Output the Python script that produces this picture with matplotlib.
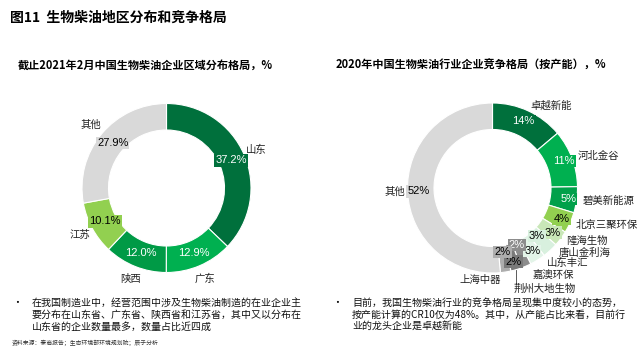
import numpy as np
import matplotlib.pyplot as plt

plt.rcParams['font.family'] = ['Noto Sans CJK SC', 'DejaVu Sans']

# left donut: regional distribution of biodiesel companies
left_names = ["山东", "广东", "陕西", "江苏", "其他"]
left_values = [37.2, 12.9, 12.0, 10.1, 27.9]
left_colors = ["#00703C", "#00B050", "#009A46", "#92D050", "#D9D9D9"]
left_text = ["white", "white", "white", "black", "black"]

# right donut: competition by capacity
right_names = ["卓越新能", "河北金谷", "碧美新能源", "北京三聚环保", "隆海生物",
               "唐山金利海", "山东丰汇", "嘉澳环保", "荆州大地生物", "上海中器", "其他"]
right_values = [14, 11, 5, 4, 3, 3, 3, 2, 2, 2, 52]
right_colors = ["#00703C", "#00B050", "#00A04A", "#92D050", "#C9E7B8",
                "#D8F0DE", "#E3F4E8", "#8C8C8C", "#7A7A7A", "#ADADAD", "#D9D9D9"]
right_text = ["white", "white", "white", "black", "black",
              "black", "black", "white", "black", "black", "black"]
right_pct_r = [0.87, 0.9, 0.9, 0.89, 0.88, 0.77, 0.88, 0.73, 0.9, 0.76, 0.87]
# label placement for the crowded lower-right names (angle in degrees, radius factor)
right_lab_pos = {"隆海生物": (-35.5, 1.07), "唐山金利海": (-44.5, 1.09),
                 "山东丰汇": (-54, 1.09), "嘉澳环保": (-65, 1.13)}

fig = plt.figure(figsize=(6.4, 3.51), dpi=100)
ax = fig.add_axes([0, 0, 1, 1])
ax.set_xlim(0, 640)
ax.set_ylim(0, 351)
ax.set_aspect('equal')
ax.axis('off')

H = 351
num_font = ['Liberation Sans', 'Noto Sans CJK SC']


def donut(center, R, values, colors, tcolors, pct_r, side_labels):
    wedges, _ = ax.pie(values, colors=colors, startangle=90, counterclock=False,
                       center=center, radius=R, frame=True,
                       wedgeprops=dict(width=26.5, edgecolor='white', linewidth=0.8))
    for i, w in enumerate(wedges):
        mid = np.deg2rad((w.theta1 + w.theta2) / 2)
        r = pct_r[i] * R
        x = center[0] + r * np.cos(mid)
        y = center[1] + r * np.sin(mid)
        v = values[i]
        s = f"{v:.1f}%" if isinstance(v, float) else f"{v}%"
        ax.text(x, y, s, ha='center', va='center', fontsize=8, color=tcolors[i],
                family=num_font,
                bbox=dict(boxstyle='square,pad=0.1', fc=colors[i], ec='none'))
        side_labels(i, w, mid)
    return wedges


lc = (166.5, H - 188)


def left_lab(i, w, mid):
    r = 1.16 * 84.5
    ax.text(lc[0] + r * np.cos(mid), lc[1] + r * np.sin(mid), left_names[i],
            ha='center', va='center', fontsize=7.5, color='#222222')


donut(lc, 84.5, left_values, left_colors, left_text, [0.83] * 5, left_lab)

rc = (492.5, H - 188)
R2 = 85


def right_lab(i, w, mid):
    name = right_names[i]
    if name == "其他":
        ax.text(405, rc[1] + 0.87 * R2 * np.sin(mid), name, ha='right', va='center',
                fontsize=7.5, color='#222222')
        return
    if name == "上海中器":
        r = 1.1 * R2
        ax.text(rc[0] + r * np.cos(mid) - 6, rc[1] + r * np.sin(mid), name,
                ha='right', va='center', fontsize=7.5, color='#222222')
        return
    r = 1.07 * R2
    ang = mid
    if name in right_lab_pos:
        a, f = right_lab_pos[name]
        ang = np.deg2rad(a)
        r = f * R2
    x = rc[0] + r * np.cos(ang)
    y = rc[1] + r * np.sin(ang)
    if name == "荆州大地生物":
        x0 = rc[0] + R2 * np.cos(mid)
        y0 = rc[1] + R2 * np.sin(mid)
        ax.plot([x0, x0], [y0, y0 - 14], color='#404040', lw=0.6)
        x, y = x0 - 2, y0 - 19
    ax.text(x, y, name, ha='left', va='center', fontsize=7.5, color='#222222')


donut(rc, R2, right_values, right_colors, right_text, right_pct_r, right_lab)

# titles
ax.text(10, H - 18, "图11  生物柴油地区分布和竞争格局", ha='left', va='center',
        fontsize=10, fontweight='bold', color='black')
ax.text(145, H - 65, "截止2021年2月中国生物柴油企业区域分布格局，%", ha='center',
        va='center', fontsize=8, fontweight='bold', color='black')
ax.text(471, H - 65, "2020年中国生物柴油行业企业竞争格局（按产能），%", ha='center',
        va='center', fontsize=8, fontweight='bold', color='black')

# bullet notes
left_note = ["在我国制造业中，经营范围中涉及生物柴油制造的在业企业主",
             "要分布在山东省、广东省、陕西省和江苏省，其中又以分布在",
             "山东省的企业数量最多，数量占比近四成"]
right_note = ["目前，我国生物柴油行业的竞争格局呈现集中度较小的态势，",
              "按产能计算的CR10仅为48%。其中，从产能占比来看，目前行",
              "业的龙头企业是卓越新能"]
line_y = [303, 315, 327]
ax.text(17, H - line_y[0], "•", ha='center', va='center', fontsize=7)
ax.text(337, H - line_y[0], "•", ha='center', va='center', fontsize=7)
for y, a, b in zip(line_y, left_note, right_note):
    ax.text(32, H - y, a, ha='left', va='center', fontsize=7.2, color='#111111')
    ax.text(352, H - y, b, ha='left', va='center', fontsize=7.2, color='#111111')

ax.text(12, H - 343, "资料来源：泰商报告；生态环境部环境规划院；辰子分析", ha='left',
        va='center', fontsize=4.2, color='#333333')

fig.savefig("out.png", dpi=100)
